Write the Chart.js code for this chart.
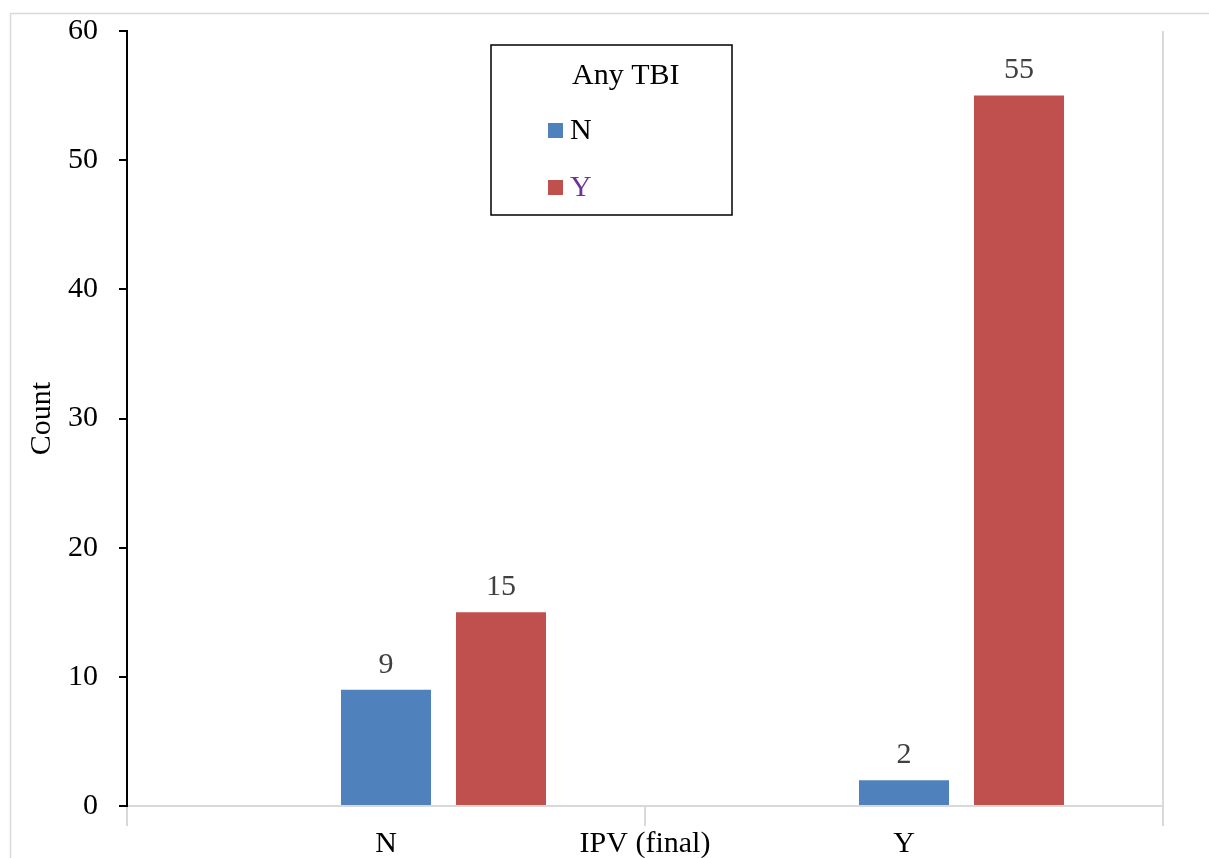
<!DOCTYPE html>
<html>
<head>
<meta charset="utf-8">
<script src="https://cdn.jsdelivr.net/npm/chart.js@4"></script>
<style>
  body { margin: 0; background: #fff; }
  canvas { display: block; }
</style>
</head>
<body>
<canvas id="chart" width="1209" height="858"></canvas>
<script>
const categories = ['N', 'Y'];
const seriesNames = ['N', 'Y'];
const countsN = [9, 2];
const countsY = [15, 55];
const blankSeries = [null, null];
const legendTitle = 'Any TBI';
const xTitle = 'IPV (final)';
const yTitle = 'Count';

const serif = '"Liberation Serif", "Times New Roman", serif';

// border, legend box, value labels and the axis title under the ticks
const decorations = {
    id: 'decorations',
    beforeDraw(chart) {
        const ctx = chart.ctx;
        ctx.save();
        ctx.fillStyle = '#fff';
        ctx.fillRect(0, 0, chart.width, chart.height);
        ctx.strokeStyle = '#d9d9d9';
        ctx.lineWidth = 1.5;
        ctx.strokeRect(10.5, 13.5, 1300, 900);
        ctx.restore();
    },
    afterDatasetsDraw(chart) {
        const ctx = chart.ctx;
        ctx.save();
        ctx.font = '30px ' + serif;
        ctx.fillStyle = '#404040';
        ctx.textAlign = 'center';
        ctx.textBaseline = 'bottom';
        chart.data.datasets.forEach((ds, i) => {
            const meta = chart.getDatasetMeta(i);
            meta.data.forEach((bar, j) => {
                if (ds.data[j] == null) return;
                ctx.fillText(ds.data[j], bar.x, bar.y - 10);
            });
        });
        ctx.restore();
    },
    afterDraw(chart) {
        const ctx = chart.ctx;
        const x = chart.scales.x;
        ctx.save();
        // light right edge of the plot
        ctx.strokeStyle = '#d9d9d9';
        ctx.lineWidth = 2;
        ctx.beginPath();
        ctx.moveTo(x.right, chart.chartArea.top);
        ctx.lineTo(x.right, x.top + 20);
        ctx.stroke();

        ctx.font = '30px ' + serif;
        ctx.fillStyle = '#000';
        ctx.textAlign = 'center';
        ctx.textBaseline = 'middle';
        ctx.fillText(xTitle, (x.left + x.right) / 2, x.top + 38);

        // legend
        ctx.strokeStyle = '#000';
        ctx.lineWidth = 1.5;
        ctx.strokeRect(491, 45, 241, 170);
        ctx.textAlign = 'left';
        ctx.fillText(legendTitle, 572, 76);
        const textColors = ['#000', '#7030A0'];
        seriesNames.forEach((name, k) => {
            const ds = chart.data.datasets[k + 1];
            const cy = 131 + k * 57;
            ctx.fillStyle = ds.backgroundColor;
            ctx.fillRect(548, cy - 8, 15, 15);
            ctx.fillStyle = textColors[k];
            ctx.fillText(name, 570, cy);
        });
        ctx.restore();
    }
};

new Chart(document.getElementById('chart'), {
    type: 'bar',
    data: {
        labels: categories,
        datasets: [
            { label: '', data: blankSeries, backgroundColor: 'transparent' },
            { label: seriesNames[0], data: countsN, backgroundColor: '#4F81BD' },
            { label: seriesNames[1], data: countsY, backgroundColor: '#C0504D' }
        ]
    },
    options: {
        responsive: false,
        animation: false,
        devicePixelRatio: 1,
        categoryPercentage: 0.666,
        barPercentage: 0.783,
        layout: { padding: { left: 0, top: 31, right: 46, bottom: 0 } },
        plugins: {
            legend: { display: false },
            tooltip: { enabled: false }
        },
        scales: {
            x: {
                afterFit(scale) {
                    scale.height = 52;
                    scale.paddingLeft = 0;
                    scale.paddingRight = 0;
                },
                grid: {
                    offset: true,
                    drawOnChartArea: false,
                    tickColor: '#d9d9d9',
                    tickLength: 20,
                    lineWidth: 2
                },
                border: { color: '#d9d9d9', width: 2 },
                ticks: {
                    color: '#000',
                    padding: 0,
                    font: { family: serif, size: 30 }
                }
            },
            y: {
                min: 0,
                max: 60,
                afterFit(scale) {
                    scale.width = 127;
                    scale.paddingTop = 0;
                    scale.paddingBottom = 0;
                },
                grid: {
                    drawOnChartArea: false,
                    tickColor: '#000',
                    tickLength: 8,
                    lineWidth: 2
                },
                border: { color: '#000', width: 2 },
                ticks: {
                    stepSize: 10,
                    color: '#000',
                    padding: 21,
                    font: { family: serif, size: 30 }
                },
                title: {
                    display: true,
                    text: yTitle,
                    color: '#000',
                    padding: { top: 24, bottom: 0 },
                    font: { family: serif, size: 30 }
                }
            }
        }
    },
    plugins: [decorations]
});
</script>
</body>
</html>
